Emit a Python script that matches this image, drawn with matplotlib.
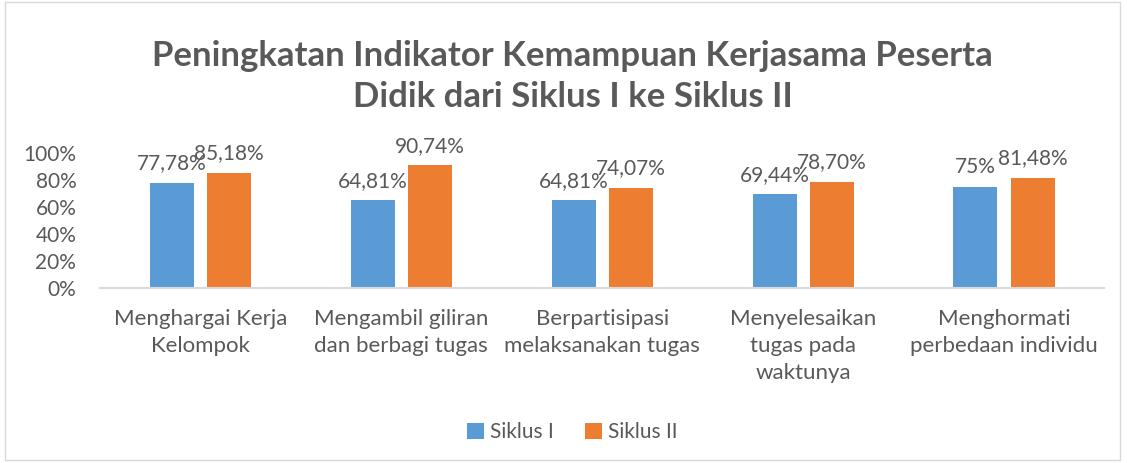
import numpy as np
import matplotlib.pyplot as plt
from matplotlib.patches import Rectangle

# Data
categories = ["Menghargai Kerja\nKelompok", "Mengambil giliran\ndan berbagi tugas",
              "Berpartisipasi\nmelaksanakan tugas", "Menyelesaikan\ntugas pada\nwaktunya",
              "Menghormati\nperbedaan individu"]
siklus1 = [77.78, 64.81, 64.81, 69.44, 75.00]
siklus2 = [85.18, 90.74, 74.07, 78.70, 81.48]
labels1 = ["77,78%", "64,81%", "64,81%", "69,44%", "75%"]
labels2 = ["85,18%", "90,74%", "74,07%", "78,70%", "81,48%"]
series_names = ["Siklus I", "Siklus II"]

plt.rcParams['font.family'] = ['Lato', 'DejaVu Sans']
grey = "#595959"
blue, orange = "#5B9BD5", "#ED7D31"

fig = plt.figure(figsize=(11.27, 4.63), dpi=100)
ax = fig.add_axes([0.0887, 0.378, 0.8913, 0.2916])

x = np.arange(len(categories))
w = 0.219
off = 0.142
b1 = ax.bar(x - off, siklus1, w, color=blue, label=series_names[0])
b2 = ax.bar(x + off, siklus2, w, color=orange, label=series_names[1])

for xi, v, t in zip(x - off, siklus1, labels1):
    ax.text(xi, v + 7, t, ha="center", va="bottom", fontsize=15, color=grey)
for xi, v, t in zip(x + off, siklus2, labels2):
    ax.text(xi, v + 7, t, ha="center", va="bottom", fontsize=15, color=grey)

ax.set_xlim(-0.5, len(categories) - 0.5)
ax.set_ylim(0, 100)
ax.set_yticks(np.arange(0, 101, 20))
ax.set_yticklabels([f"{t}%" for t in range(0, 101, 20)], fontsize=15, color=grey)
ax.set_xticks(x)
ax.set_xticklabels(categories, fontsize=16, color=grey, linespacing=1.45)
ax.tick_params(length=0)
ax.tick_params(axis="y", pad=17)
ax.tick_params(axis="x", pad=15)
for s in ["top", "right", "left"]:
    ax.spines[s].set_visible(False)
ax.spines["bottom"].set_color("#D9D9D9")
ax.spines["bottom"].set_linewidth(1.5)

fig.text(0.508, 0.835, "Peningkatan Indikator Kemampuan Kerjasama Peserta\nDidik dari Siklus I ke Siklus II",
         ha="center", va="center", fontsize=25, fontweight="bold", color=grey, linespacing=1.35)

leg = fig.legend(loc="center", bbox_to_anchor=(0.508, 0.067), ncol=2, frameon=False,
                 fontsize=15, handlelength=0.8, handleheight=0.8, columnspacing=1.5, handletextpad=0.3)
for t in leg.get_texts():
    t.set_color(grey)

fig.add_artist(Rectangle((0.004, 0.006), 0.99, 0.99, transform=fig.transFigure,
                         fill=False, edgecolor="#D9D9D9", linewidth=1))

fig.savefig("out.png", dpi=100)
